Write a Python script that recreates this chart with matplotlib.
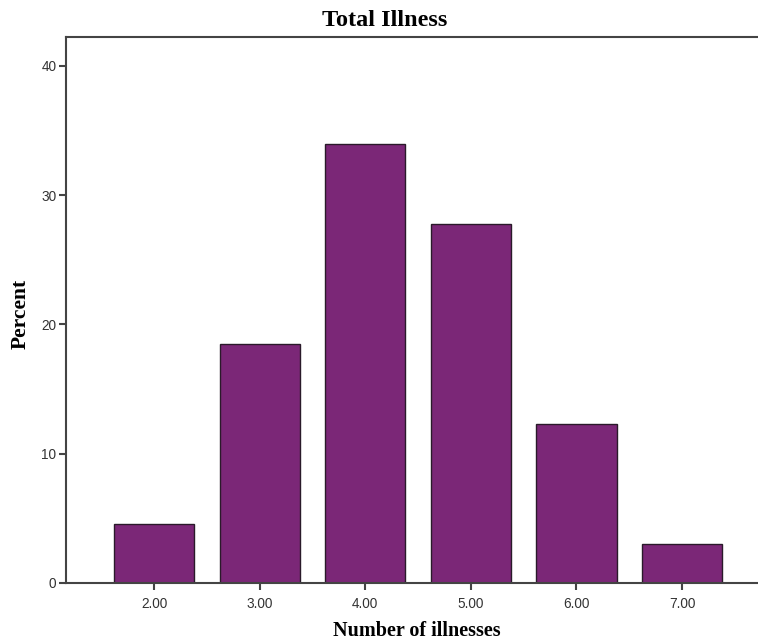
import matplotlib.pyplot as plt

categories = ["2.00", "3.00", "4.00", "5.00", "6.00", "7.00"]
positions = [2, 3, 4, 5, 6, 7]
percent = [4.6, 18.5, 34.0, 27.8, 12.3, 3.0]
y_ticks = [0, 10, 20, 30, 40]

W, H = 758, 642
fig = plt.figure(figsize=(W / 100, H / 100), dpi=100)
ax = fig.add_axes([66 / W, 59 / H, 1 - 66 / W, 546 / H])

ax.bar(positions, percent, width=0.76, color="#7b2777", edgecolor="#2a1a2a", linewidth=1.0)

ax.set_xlim(1.166, 7.72)
ax.set_ylim(0, 42.24)
ax.set_xticks(positions)
ax.set_xticklabels(categories)
ax.set_yticks(y_ticks)

for side in ["left", "bottom", "top"]:
    ax.spines[side].set_color("#444444")
    ax.spines[side].set_linewidth(1.5)
ax.spines["right"].set_visible(False)

ax.tick_params(axis="both", direction="out", length=5, width=1.5, color="#444444",
               labelsize=9.8, labelcolor="#333333")
ax.tick_params(axis="x", pad=5)
ax.tick_params(axis="y", pad=2)
for lbl in ax.get_xticklabels() + ax.get_yticklabels():
    lbl.set_family("Liberation Sans")

# labels placed in pixel terms to match the reference layout
fig.text(385 / W, 1 - 20 / H, "Total Illness", family="Liberation Serif", weight="bold",
         size=17.5, ha="center", va="center")
fig.text(417 / W, 1 - 631 / H, "Number of illnesses", family="Liberation Serif", weight="bold",
         size=14.5, ha="center", va="center")
fig.text(21 / W, 1 - 314 / H, "Percent", family="Liberation Serif", weight="bold",
         size=15.5, ha="center", va="center", rotation=90)

fig.savefig("out.png", dpi=100)
